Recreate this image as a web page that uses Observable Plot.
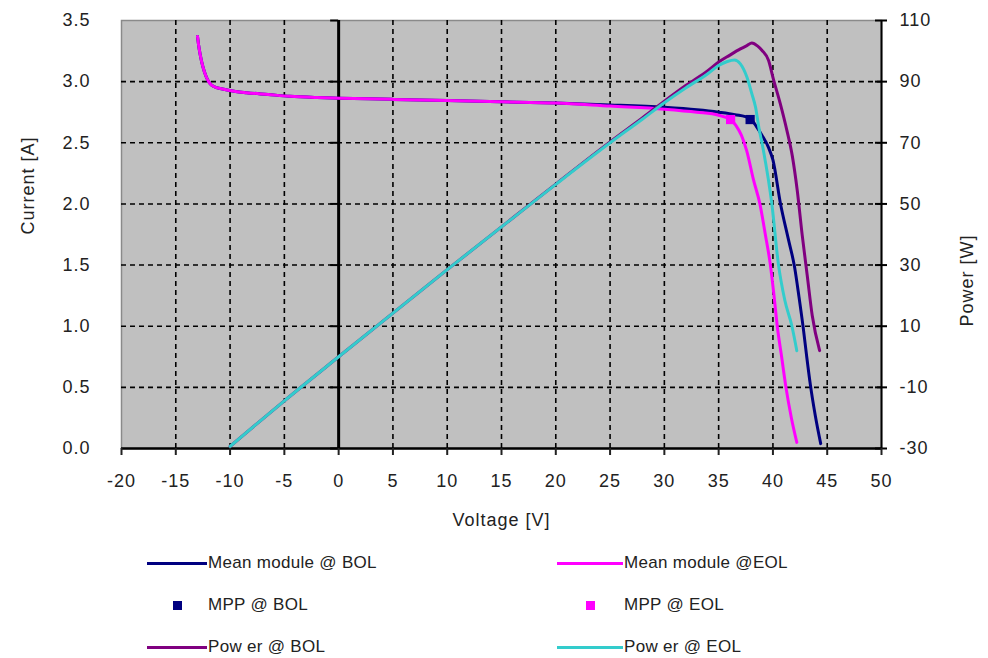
<!DOCTYPE html>
<html><head><meta charset="utf-8">
<script src="https://cdn.jsdelivr.net/npm/d3@7"></script>
<script src="https://cdn.jsdelivr.net/npm/@observablehq/plot@0.6"></script>
<style>
body{margin:0;background:#fff;font-family:"Liberation Sans",Arial,sans-serif;}
#wrap{position:relative;width:988px;height:658px;overflow:hidden;}
#chart svg text{letter-spacing:1px;}
.lg{position:absolute;font-size:17px;color:#222;white-space:nowrap;line-height:20px;letter-spacing:0.3px;}
.ln{position:absolute;height:3px;}
.sq{position:absolute;width:9px;height:9px;}
</style></head><body><div id="wrap"><div id="chart"></div><div id="legend"></div></div>
<script>
// ---- axis ticks ----
const voltTicks = [-20,-15,-10,-5,0,5,10,15,20,25,30,35,40,45,50];
const currentTicks = [0,0.5,1.0,1.5,2.0,2.5,3.0,3.5];
const powerTicks = [-30,-10,10,30,50,70,90,110];
const currentDomain = [0, 3.5];
const powerDomain = [-30, 110];

// ---- Mean module @ BOL (I-V) ----
const bolV = [-13.0,-12.9,-12.75,-12.5,-12.2,-11.9,-11.5,-10.7,-9.5,-8.5,-6.5,-4.5,-2,0,5,10,15,20,25,30,33,35,36.5,37.9,38.5,39.0,39.6,40.0,40.7,41.4,42.0,42.4,42.8,43.1,43.45,43.9,44.4];
const bolI = [3.37,3.30,3.22,3.12,3.04,2.99,2.96,2.94,2.92,2.91,2.895,2.88,2.87,2.865,2.855,2.845,2.835,2.825,2.81,2.79,2.77,2.75,2.73,2.70,2.63,2.56,2.46,2.36,2.0,1.72,1.48,1.24,0.98,0.76,0.52,0.27,0.04];

// ---- Mean module @EOL (I-V) ----
const eolV = [-13.0,-12.9,-12.75,-12.5,-12.2,-11.9,-11.5,-10.7,-9.5,-8.5,-6.5,-4.5,-2,0,5,10,15,20,25,30,33,35,36.1,36.6,37.1,37.6,38.2,38.8,39.3,39.75,40.1,40.4,40.8,41.2,41.7,42.2];
const eolI = [3.37,3.30,3.22,3.12,3.04,2.99,2.96,2.94,2.92,2.91,2.895,2.88,2.87,2.865,2.855,2.845,2.835,2.825,2.80,2.775,2.75,2.725,2.69,2.64,2.56,2.43,2.2,2.0,1.75,1.51,1.25,1.0,0.75,0.5,0.25,0.05];

// ---- MPP points ----
const mppBolV = [37.9], mppBolI = [2.69];
const mppEolV = [36.1], mppEolI = [2.69];

// ---- Power @ BOL ----
const powBolV = [-10,-5,0,5,10,15,20,25,28,30,32,34,35,36,37,37.6,38.06,38.6,39.0,39.6,40.03,40.67,41.29,41.78,42.24,42.7,43.16,43.62,44.3];
const powBolP = [-29.3,-14.4,0,14.3,28.5,42.5,56.5,70.3,78.2,83.6,88.8,93.6,96.4,98.6,100.7,101.8,102.6,101.6,100.2,96.9,91.0,82.9,74.0,65.8,54.4,39.7,26.6,13.5,2.0];

// ---- Power @ EOL ----
const powEolV = [-10,-5,0,5,10,15,20,25,28,30,32,34,35,35.8,36.46,37.0,37.6,38.06,38.4,38.7,39.1,39.9,40.5,41.1,41.75,42.2];
const powEolP = [-29.3,-14.4,0,14.3,28.5,42.5,56.4,70.0,77.8,83.1,88.0,92.6,95.3,96.6,97.1,95.8,91.5,86.0,81.6,75.1,68.0,50.0,30.4,18.4,10.0,2.0];

// secondary axis mapped onto the primary y scale
const p2y = p => (p - powerDomain[0]) / (powerDomain[1] - powerDomain[0]) * currentDomain[1];

const zip = (xs, ys) => xs.map((x, i) => ({x, y: ys[i]}));
const bol = zip(bolV, bolI), eol = zip(eolV, eolI);
const mppB = zip(mppBolV, mppBolI), mppE = zip(mppEolV, mppEolI);
const pBol = zip(powBolV, powBolP).map(d => ({x: d.x, y: p2y(d.y)}));
const pEol = zip(powEolV, powEolP).map(d => ({x: d.x, y: p2y(d.y)}));

const C = {bol:"#000080", eol:"#ff00ff", pbol:"#800080", peol:"#33cccc"};
const grid = {stroke:"#000", strokeWidth:1.6, strokeDasharray:"5,4", strokeOpacity:1};

const chart = Plot.plot({
  width: 988, height: 535,
  marginLeft: 121, marginRight: 107, marginTop: 20, marginBottom: 87,
  x: {domain: [voltTicks[0], voltTicks[voltTicks.length-1]]},
  y: {domain: currentDomain},
  style: {fontFamily: "Liberation Sans, Arial, sans-serif", fontSize: "18px", color: "#222", background: "transparent", overflow: "visible"},
  marks: [
    Plot.frame({fill: "#c0c0c0", stroke: "#8a8a8a", strokeWidth: 1.5}),
    Plot.ruleX(voltTicks.filter(v => v !== 0 && v !== voltTicks[0] && v !== voltTicks[voltTicks.length-1]), grid),
    Plot.ruleY(currentTicks.filter(c => c > 0 && c < currentDomain[1]), grid),
    Plot.ruleX([0], {stroke:"#000", strokeWidth:3}),
    Plot.ruleY(currentTicks, {x1: 0, x2: 0, insetLeft: -8, stroke:"#000", strokeWidth:2}),
    Plot.ruleY([0], {stroke:"#000", strokeWidth:2.5}),
    Plot.ruleX([voltTicks[voltTicks.length-1]], {stroke:"#000", strokeWidth:2}),
    Plot.ruleY(currentTicks, {x1: 50, x2: 50, insetLeft: -6, insetRight: -6, stroke:"#000", strokeWidth:2}),
    Plot.axisX({ticks: voltTicks, tickSize: 7, tickPadding: 19, label: null, strokeWidth: 2, tickFormat: d => String(d)}),
    Plot.axisY({anchor: "left", ticks: currentTicks, tickSize: 0, tickPadding: 31, tickFormat: d3.format(".1f"), label: null}),
    Plot.text(powerTicks, {y: p2y, text: d => String(d), frameAnchor: "right", textAnchor: "start", dx: 18, fill: "#222"}),
    Plot.text(["Current [A]"], {frameAnchor: "left", rotate: -90, dx: -93, fill: "#222", fontSize: 18}),
    Plot.text(["Power [W]"], {frameAnchor: "right", rotate: -90, dx: 86, fill: "#222", fontSize: 18}),
    Plot.text(["Voltage [V]"], {frameAnchor: "bottom", dy: 77, fill: "#222", fontSize: 18}),
    Plot.line(bol, {x: "x", y: "y", stroke: C.bol, strokeWidth: 3, curve: "monotone-x"}),
    Plot.line(eol, {x: "x", y: "y", stroke: C.eol, strokeWidth: 3, curve: "monotone-x"}),
    Plot.dot(mppB, {x: "x", y: "y", symbol: "square", r: 5.2, fill: C.bol, stroke: "none"}),
    Plot.dot(mppE, {x: "x", y: "y", symbol: "square", r: 5.2, fill: C.eol, stroke: "none"}),
    Plot.line(pBol, {x: "x", y: "y", stroke: C.pbol, strokeWidth: 3, curve: "monotone-x"}),
    Plot.line(pEol, {x: "x", y: "y", stroke: C.peol, strokeWidth: 3, curve: "monotone-x"})
  ]
});
document.getElementById("chart").appendChild(chart);

// ---- legend ----
const legendItems = [
  {label: "Mean module @ BOL", color: C.bol, kind: "line", col: 0, row: 0},
  {label: "Mean module @EOL", color: C.eol, kind: "line", col: 1, row: 0},
  {label: "MPP @ BOL", color: C.bol, kind: "square", col: 0, row: 1},
  {label: "MPP @ EOL", color: C.eol, kind: "square", col: 1, row: 1},
  {label: "Pow er @ BOL", color: C.pbol, kind: "line", col: 0, row: 2},
  {label: "Pow er @ EOL", color: C.peol, kind: "line", col: 1, row: 2}
];
const lg = document.getElementById("legend");
const colX = [147, 557], colW = [60, 66], rowY = [563, 605, 647];
legendItems.forEach(it => {
  const x0 = colX[it.col], y0 = rowY[it.row];
  const s = document.createElement("div");
  if (it.kind === "line") {
    s.className = "ln";
    s.style.left = x0 + "px"; s.style.top = (y0 - 1.5) + "px";
    s.style.width = colW[it.col] + "px"; s.style.background = it.color;
  } else {
    s.className = "sq";
    s.style.left = (x0 + colW[it.col]/2 - 4.5) + "px"; s.style.top = (y0 - 4.5) + "px";
    s.style.background = it.color;
  }
  lg.appendChild(s);
  const t = document.createElement("div");
  t.className = "lg"; t.textContent = it.label;
  t.style.left = (x0 + colW[it.col] + 1) + "px"; t.style.top = (y0 - 10) + "px";
  lg.appendChild(t);
});
</script></body></html>
